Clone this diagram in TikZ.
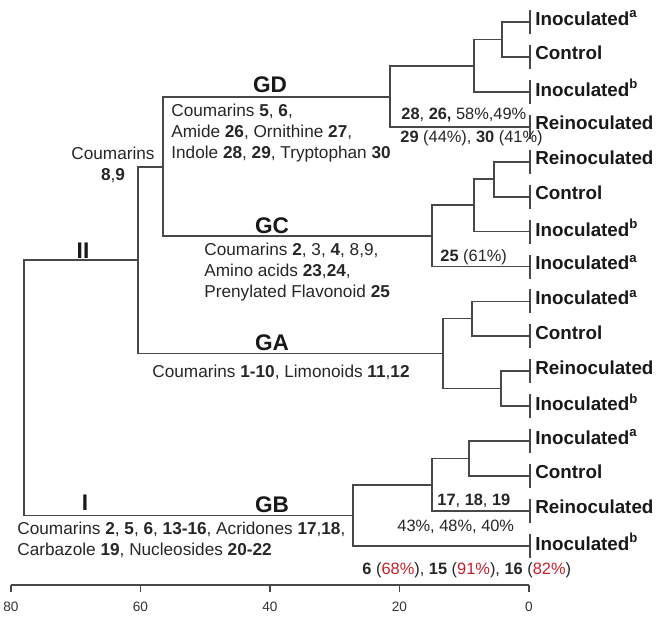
\documentclass[tikz,border=0pt]{standalone}
\usepackage{fontspec}
\setmainfont{Liberation Sans}

\definecolor{branch}{RGB}{72,72,72}
\definecolor{pct}{RGB}{196,32,44}

\tikzset{
	link/.style={draw=branch, line width=0.9pt},
	leaf/.style={anchor=west, inner sep=0pt, text=black!90, font=\fontsize{9.4}{11}\selectfont\bfseries},
	group/.style={inner sep=0pt, text=black!90, font=\fontsize{11.3}{13}\selectfont\bfseries},
	info/.style={inner sep=0pt, text=black!85, align=left, font=\fontsize{8.6}{10.5}\selectfont},
	note/.style={info, anchor=west, font=\fontsize{8.2}{10}\selectfont},
	axislab/.style={inner sep=0pt, text=black!80, font=\fontsize{6.8}{8}\selectfont},
}

\newcommand{\cpd}[1]{\textbf{#1}}
\newcommand{\red}[1]{\textcolor{pct}{#1}}

\begin{document}
\begin{tikzpicture}[x=0.5pt,y=-0.5pt]
	\useasboundingbox (0,0) rectangle (661,622);

	% leaves
	\foreach \lab [count=\i from 0] in {Inoculated\textsuperscript{a},Control,Inoculated\textsuperscript{b},Reinoculated,%
		Reinoculated,Control,Inoculated\textsuperscript{b},Inoculated\textsuperscript{a},%
		Inoculated\textsuperscript{a},Control,Reinoculated,Inoculated\textsuperscript{b},%
		Inoculated\textsuperscript{a},Control,Reinoculated,Inoculated\textsuperscript{b}}
	{
		\coordinate (l\i) at (530,{22+34.93*\i});
		\draw[link] (l\i) ++(0,-12) -- ++(0,24);
		\node[leaf] (t\i) at (535,{18+34.93*\i}) {\lab};
	}

	% joins
	\coordinate (d1) at (502,39.5);
	\coordinate (d2) at (474,66);
	\coordinate (d3) at (390,97);
	\coordinate (c1) at (494,179);
	\coordinate (c2) at (474,205);
	\coordinate (c3) at (432,236);
	\coordinate (dc) at (163,167);
	\coordinate (a1) at (472,318.5);
	\coordinate (a2) at (501,388.5);
	\coordinate (a3) at (443,353.5);
	\coordinate (ii) at (138,260);
	\coordinate (b1) at (469,458.5);
	\coordinate (b2) at (432,485);
	\coordinate (b3) at (353,515.5);
	\coordinate (root) at (24,388);

	\foreach \p/\c in {d1/l0,d1/l1,d2/d1,d2/l2,d3/d2,d3/l3,
		c1/l4,c1/l5,c2/c1,c2/l6,c3/c2,c3/l7,dc/d3,dc/c3,
		a1/l8,a1/l9,a2/l10,a2/l11,a3/a1,a3/a2,ii/dc,ii/a3,
		b1/l12,b1/l13,b2/b1,b2/l14,b3/b2,b3/l15,root/ii,root/b3}
		\draw[link] (\p) |- (\c);

	\node[group] (gd) at (270,85) {GD};
	\node[group] (gc) at (272,226) {GC};
	\node[group] (ga) at (272,343) {GA};
	\node[group] (gb) at (272,505) {GB};
	\node[group] (cII) at (83,251) {II};
	\node[group] (cI) at (85,503) {I};

	\node[info, anchor=north, align=center] (c89) at (113,147) {Coumarins\\\cpd{8},\cpd{9}};
	\node[info, anchor=north west] (gdtxt) at (171,104) {Coumarins \cpd{5}, \cpd{6},\\Amide \cpd{26}, Ornithine \cpd{27},\\Indole \cpd{28}, \cpd{29}, Tryptophan \cpd{30}};
	\node[info, anchor=north west] (gctxt) at (204,243) {Coumarins \cpd{2}, 3, \cpd{4}, 8,9,\\Amino acids \cpd{23},\cpd{24},\\Prenylated Flavonoid \cpd{25}};
	\node[info, anchor=west] (gatxt) at (152,372) {Coumarins \cpd{1-10}, Limonoids \cpd{11},\cpd{12}};
	\node[info, anchor=north west] (gbtxt) at (17,522) {Coumarins \cpd{2}, \cpd{5}, \cpd{6}, \cpd{13-16}, Acridones \cpd{17},\cpd{18},\\Carbazole \cpd{19}, Nucleosides \cpd{20-22}};

	\node[note] (gdp1) at (401,115) {\cpd{28}, \cpd{26,} 58\%,49\%};
	\node[note] (gdp2) at (400,138) {\cpd{29} (44\%), \cpd{30} (41\%)};
	\node[note] (gcp) at (440,257) {\cpd{25} (61\%)};
	\node[note] (gbp1) at (437,501) {\cpd{17}, \cpd{18}, \cpd{19}};
	\node[note] (gbp2) at (397,527) {43\%, 48\%, 40\%};
	\node[note] (gbp3) at (362,570) {\cpd{6} (\red{68\%}), \cpd{15} (\red{91\%}), \cpd{16} (\red{82\%})};

	% scale
	\coordinate (ax80) at (11,585);
	\coordinate (ax0) at (529,585);
	\draw[link] (ax80) -- (ax0);
	\foreach \v in {0,20,...,80}
	{
		\draw[link] ({529-6.475*\v},585) -- ++(0,7);
		\node[axislab] (n\v) at ({529-6.475*\v},607) {\v};
	}
\end{tikzpicture}
\end{document}
